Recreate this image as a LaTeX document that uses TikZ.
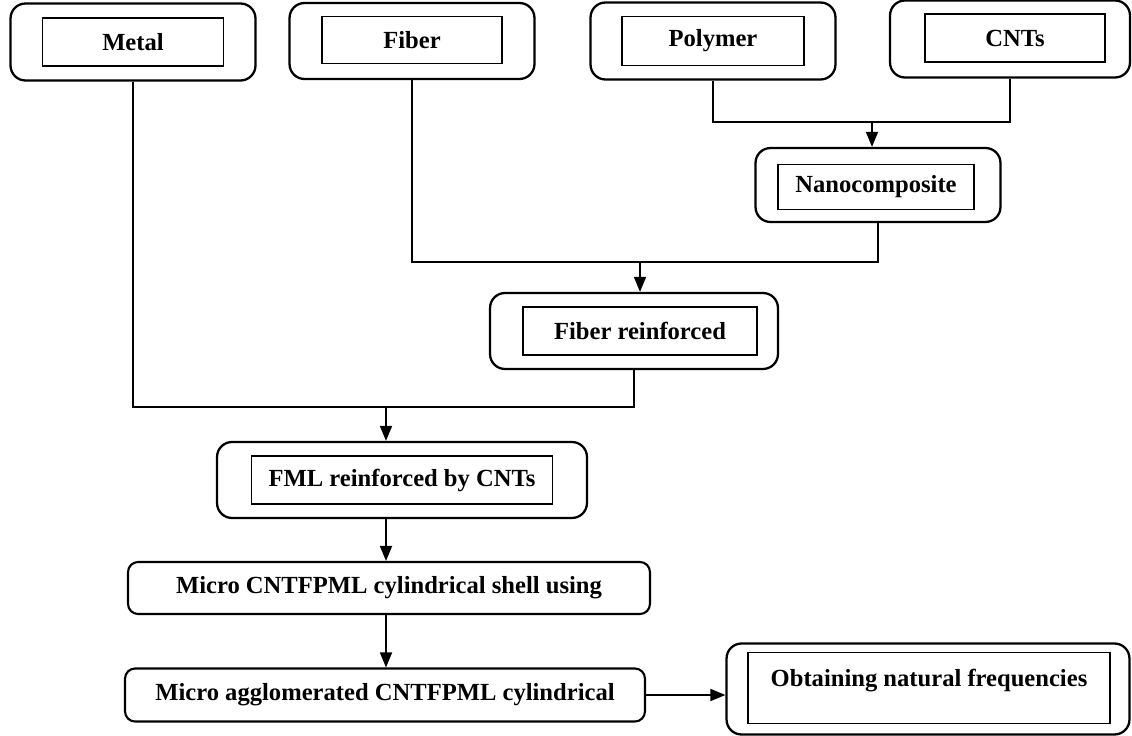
\documentclass[tikz,border=0pt]{standalone}
\usepackage{fontspec}
\setmainfont{Liberation Serif}
\usetikzlibrary{arrows.meta,positioning,calc}

\begin{document}
\begin{tikzpicture}[x=0.02cm,y=-0.02cm,>={Triangle[length=0.3cm,width=0.24cm]},
  font=\fontsize{14pt}{16pt}\selectfont\bfseries,
  outer/.style={draw,line width=1.3pt,rounded corners=0.3cm,inner sep=0pt},
  inner/.style={draw,line width=1pt,inner sep=0pt,align=center},
  flat/.style={draw,line width=1.2pt,rounded corners=0.2cm,inner sep=0pt,align=center},
  link/.style={line width=1pt}]
  \useasboundingbox (0,0) rectangle (1132,736);
  % raw materials (top row)
  \node[outer,minimum width=4.9cm,minimum height=1.54cm] (metal) at (133,42) {};
  \node[inner,minimum width=3.62cm,minimum height=0.96cm] (metal-in) at (133,42) {Metal};
  \node[outer,minimum width=4.9cm,minimum height=1.52cm] (fiber) at (412,41) {};
  \node[inner,minimum width=3.6cm,minimum height=0.94cm] (fiber-in) at (412,40) {Fiber};
  \node[outer,minimum width=4.9cm,minimum height=1.54cm] (polymer) at (713,41) {};
  \node[inner,minimum width=3.64cm,minimum height=0.98cm] (polymer-in) at (713,41) {Polymer};
  \node[outer,minimum width=4.8cm,minimum height=1.54cm] (cnts) at (1010,39) {};
  \node[inner,minimum width=3.6cm,minimum height=0.96cm] (cnts-in) at (1015,38) {CNTs};
  % intermediate products
  \node[outer,minimum width=4.9cm,minimum height=1.48cm] (nano) at (878,185) {};
  \node[inner,minimum width=3.92cm,minimum height=0.9cm] (nano-in) at (876,187) {Nanocomposite};
  \node[outer,minimum width=5.76cm,minimum height=1.52cm] (fibrein) at (634,331) {};
  \node[inner,minimum width=4.68cm,minimum height=0.96cm] (fibrein-in) at (640,331) {Fiber reinforced};
  \node[outer,minimum width=7.4cm,minimum height=1.52cm] (fml) at (402,480) {};
  \node[inner,minimum width=6.02cm,minimum height=0.96cm] (fml-in) at (402,480) {FML reinforced by CNTs};
  % shell model and result
  \node[flat,minimum width=10.44cm,minimum height=1.04cm] (shell) at (389,588) {Micro CNTFPML cylindrical shell using};
  \node[flat,minimum width=10.4cm,minimum height=1.06cm] (aggl) at (385,695) {Micro agglomerated CNTFPML cylindrical};
  \node[outer,minimum width=8.06cm,minimum height=1.82cm] (obtain) at (928,689) {};
  \node[inner,minimum width=7.24cm,minimum height=1.42cm] (obtain-in) at (929,688) {Obtaining natural frequencies\\[-4pt] ~};
  % junctions
  \coordinate (j1) at (872,122);
  \coordinate (j2) at (640,262);
  \coordinate (j3) at (386,407);
  \draw[link] (polymer.south) |- (j1);
  \draw[link] (cnts.south) |- (j1);
  \draw[link,->] (j1) -- (j1 |- nano.north);
  \draw[link] (fiber.south) |- (j2);
  \draw[link] (nano.south) |- (j2);
  \draw[link,->] (j2) -- (j2 |- fibrein.north);
  \draw[link] (metal.south) |- (j3);
  \draw[link] (fibrein.south) |- (j3);
  \draw[link,->] (j3) -- (j3 |- fml.north);
  \draw[link,->] (j3 |- fml.south) -- (j3 |- shell.north);
  \draw[link,->] (j3 |- shell.south) -- (j3 |- aggl.north);
  \draw[link,->] (aggl.east) -- (obtain.west |- aggl.east);
\end{tikzpicture}
\end{document}
